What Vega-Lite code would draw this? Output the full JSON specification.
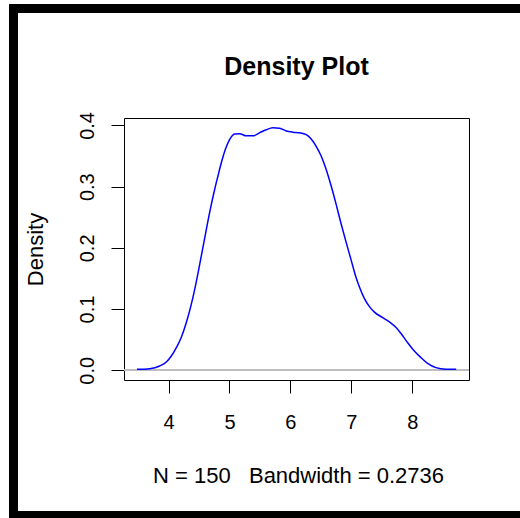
{
  "$schema": "https://vega.github.io/schema/vega-lite/v6.json",
  "width": 345,
  "height": 262,
  "autosize": {"type": "none"},
  "padding": {"left": 124, "top": 118, "right": 51, "bottom": 138},
  "background": "white",
  "config": {
    "view": {"stroke": "black", "strokeWidth": 1},
    "font": "Liberation Sans"
  },
  "title": {
    "text": "Density Plot",
    "font": "Liberation Sans",
    "fontSize": 25,
    "fontWeight": "bold",
    "color": "black",
    "anchor": "middle",
    "frame": "group",
    "baseline": "alphabetic",
    "offset": -95
  },
  "data": {
    "values": [
      {"x": 3.482, "d": 0.0016},
      {"x": 3.69, "d": 0.0027},
      {"x": 3.854, "d": 0.007},
      {"x": 3.964, "d": 0.0136},
      {"x": 4.046, "d": 0.0233},
      {"x": 4.128, "d": 0.037},
      {"x": 4.21, "d": 0.054},
      {"x": 4.292, "d": 0.078},
      {"x": 4.374, "d": 0.108},
      {"x": 4.456, "d": 0.145},
      {"x": 4.538, "d": 0.187},
      {"x": 4.62, "d": 0.23},
      {"x": 4.685, "d": 0.263},
      {"x": 4.756, "d": 0.295},
      {"x": 4.81, "d": 0.317},
      {"x": 4.866, "d": 0.339},
      {"x": 4.936, "d": 0.362},
      {"x": 5.002, "d": 0.377},
      {"x": 5.084, "d": 0.386},
      {"x": 5.166, "d": 0.3866},
      {"x": 5.275, "d": 0.383},
      {"x": 5.384, "d": 0.383},
      {"x": 5.493, "d": 0.388},
      {"x": 5.603, "d": 0.393},
      {"x": 5.712, "d": 0.3964},
      {"x": 5.822, "d": 0.3955},
      {"x": 5.931, "d": 0.391},
      {"x": 6.04, "d": 0.389},
      {"x": 6.15, "d": 0.388},
      {"x": 6.259, "d": 0.385},
      {"x": 6.341, "d": 0.378},
      {"x": 6.423, "d": 0.366},
      {"x": 6.505, "d": 0.35},
      {"x": 6.587, "d": 0.328},
      {"x": 6.669, "d": 0.301},
      {"x": 6.751, "d": 0.271},
      {"x": 6.833, "d": 0.239},
      {"x": 6.915, "d": 0.209},
      {"x": 6.997, "d": 0.18},
      {"x": 7.067, "d": 0.155},
      {"x": 7.133, "d": 0.136},
      {"x": 7.215, "d": 0.117},
      {"x": 7.297, "d": 0.104},
      {"x": 7.379, "d": 0.095},
      {"x": 7.515, "d": 0.086},
      {"x": 7.652, "d": 0.077},
      {"x": 7.734, "d": 0.07},
      {"x": 7.816, "d": 0.06},
      {"x": 7.925, "d": 0.045},
      {"x": 8.034, "d": 0.0315},
      {"x": 8.143, "d": 0.0207},
      {"x": 8.252, "d": 0.0114},
      {"x": 8.389, "d": 0.0044},
      {"x": 8.553, "d": 0.0018},
      {"x": 8.72, "d": 0.0016}
    ]
  },
  "layer": [
    {
      "mark": {"type": "rule", "color": "#bebebe", "strokeWidth": 1},
      "encoding": {
        "y": {"datum": 0, "type": "quantitative"}
      }
    },
    {
      "mark": {"type": "line", "color": "#0000ff", "strokeWidth": 1.5, "interpolate": "monotone"},
      "encoding": {
        "x": {
          "field": "x",
          "type": "quantitative",
          "scale": {"domain": [3.269, 8.931], "nice": false, "zero": false},
          "axis": {
            "values": [4, 5, 6, 7, 8],
            "format": "d",
            "grid": false,
            "domain": false,
            "ticks": true,
            "tickSize": 13,
            "tickColor": "black",
            "tickWidth": 1,
            "labelFont": "Liberation Sans",
            "labelFontSize": 20,
            "labelColor": "black",
            "labelBaseline": "alphabetic",
            "labelPadding": 35,
            "title": "N = 150 \u00a0 Bandwidth = 0.2736",
            "titleFont": "Liberation Sans",
            "titleFontSize": 22,
            "titleFontWeight": "normal",
            "titleColor": "black",
            "titleBaseline": "alphabetic",
            "titleAlign": "center",
            "titleX": 174,
            "titleY": 102
          }
        },
        "y": {
          "field": "d",
          "type": "quantitative",
          "scale": {"domain": [-0.01586, 0.4122], "nice": false, "zero": false},
          "axis": {
            "values": [0, 0.1, 0.2, 0.3, 0.4],
            "format": ".1f",
            "grid": false,
            "domain": false,
            "tickSize": 13,
            "tickColor": "black",
            "tickWidth": 1,
            "labelFont": "Liberation Sans",
            "labelFontSize": 20,
            "labelColor": "black",
            "labelAngle": 270,
            "labelAlign": "center",
            "labelBaseline": "alphabetic",
            "labelPadding": 18,
            "title": "Density",
            "titleFont": "Liberation Sans",
            "titleFontSize": 22,
            "titleFontWeight": "normal",
            "titleColor": "black",
            "titleAngle": 270,
            "titleAlign": "center",
            "titleBaseline": "alphabetic",
            "titleX": -82,
            "titleY": 131
          }
        }
      }
    },
    {
      "mark": {"type": "rect", "fill": null, "stroke": "black", "strokeWidth": 8, "clip": false},
      "encoding": {
        "x": {"datum": 1.461, "type": "quantitative"},
        "x2": {"datum": 9.95},
        "y": {"datum": 0.5905, "type": "quantitative"},
        "y2": {"datum": -0.2375}
      }
    }
  ]
}
